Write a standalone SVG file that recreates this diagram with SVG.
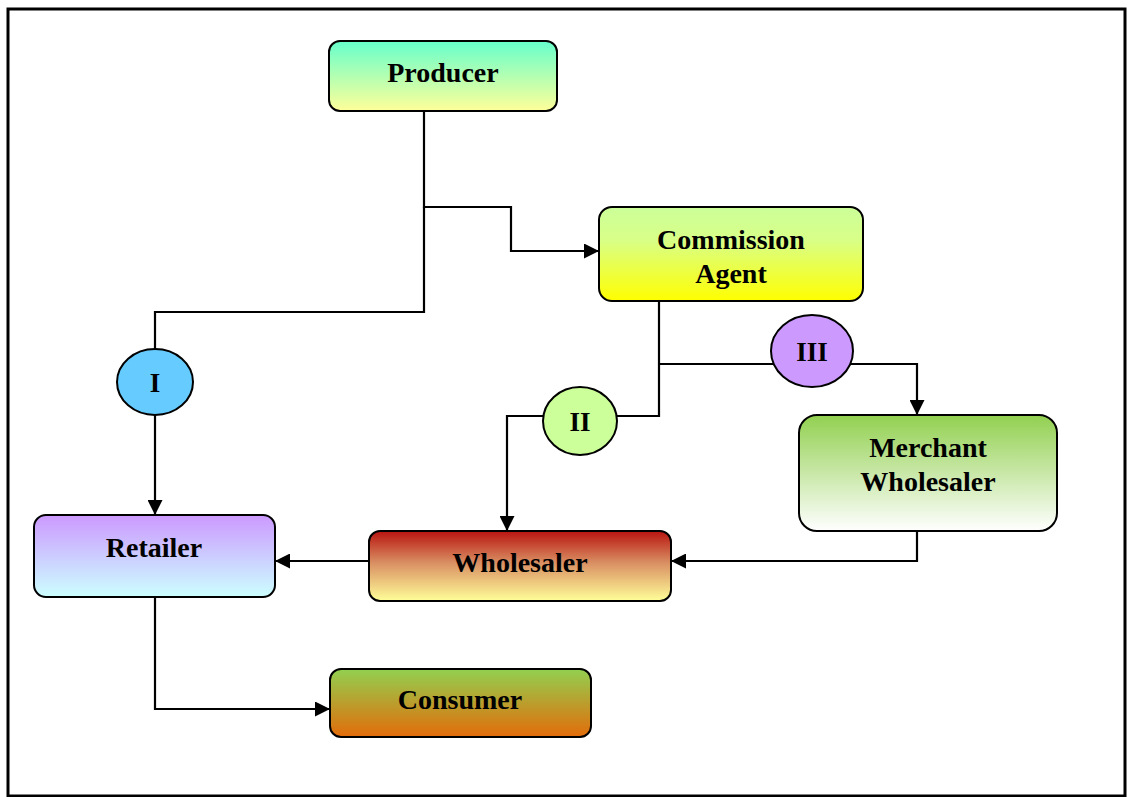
<svg xmlns="http://www.w3.org/2000/svg" width="1129" height="797" viewBox="0 0 1129 797">
<style>
.box{stroke:#000;stroke-width:2}
.lbl{font-family:"Liberation Serif","Times New Roman",serif;font-weight:bold;font-size:28px;fill:#000;text-anchor:middle}
.num{font-family:"Liberation Serif","Times New Roman",serif;font-weight:bold;font-size:27px;fill:#000;text-anchor:middle}
.conn{fill:none;stroke:#000;stroke-width:2.2}
</style>
<defs>
<marker id="arr" viewBox="0 0 10 10" refX="10" refY="5" markerWidth="15" markerHeight="15" markerUnits="userSpaceOnUse" orient="auto">
<path d="M0,0 L10,5 L0,10 z" fill="#000"/>
</marker>
<linearGradient id="gProd" x1="0" y1="0" x2="0" y2="1"><stop offset="0" stop-color="#66FFCC"/><stop offset="1" stop-color="#FFFF99"/></linearGradient>
<linearGradient id="gComm" x1="0" y1="0" x2="0" y2="1"><stop offset="0" stop-color="#CCFF99"/><stop offset="0.35" stop-color="#D8FF88"/><stop offset="1" stop-color="#FFFF00"/></linearGradient>
<linearGradient id="gRet" x1="0" y1="0" x2="0" y2="1"><stop offset="0" stop-color="#CC99FF"/><stop offset="1" stop-color="#CCFFFF"/></linearGradient>
<linearGradient id="gWho" x1="0" y1="0" x2="0" y2="1"><stop offset="0" stop-color="#B81410"/><stop offset="0.45" stop-color="#D98E62"/><stop offset="1" stop-color="#FFFF99"/></linearGradient>
<linearGradient id="gMer" x1="0" y1="0" x2="0" y2="1"><stop offset="0" stop-color="#92D050"/><stop offset="1" stop-color="#FFFFFF"/></linearGradient>
<linearGradient id="gCon" x1="0" y1="0" x2="0" y2="1"><stop offset="0" stop-color="#92D050"/><stop offset="1" stop-color="#E36C0A"/></linearGradient>
</defs>
<rect x="0" y="0" width="1129" height="797" fill="#fff"/>
<rect x="8" y="9" width="1117" height="787" fill="none" stroke="#000" stroke-width="3"/>
<g id="connectors">
<path class="conn" d="M424,111 V207 H511 V251 H599" marker-end="url(#arr)"/>
<path class="conn" d="M424,207 V312 H155 V515" marker-end="url(#arr)"/>
<path class="conn" d="M659,301 V416 H507 V531" marker-end="url(#arr)"/>
<path class="conn" d="M659,364 H917 V415" marker-end="url(#arr)"/>
<path class="conn" d="M917,531 V561 H671" marker-end="url(#arr)"/>
<path class="conn" d="M369,561 H275" marker-end="url(#arr)"/>
<path class="conn" d="M155,597 V709 H330" marker-end="url(#arr)"/>
</g>
<g id="producer">
<rect class="box" x="329" y="41" width="228" height="70" rx="11" fill="url(#gProd)"/>
<text class="lbl" x="443" y="82">Producer</text>
</g>
<g id="commission-agent">
<rect class="box" x="599" y="207" width="264" height="94" rx="13" fill="url(#gComm)"/>
<text class="lbl" x="731" y="249">Commission</text>
<text class="lbl" x="731" y="283">Agent</text>
</g>
<g id="merchant-wholesaler">
<rect class="box" x="799" y="415" width="258" height="116" rx="18" fill="url(#gMer)"/>
<text class="lbl" x="928" y="457">Merchant</text>
<text class="lbl" x="928" y="491">Wholesaler</text>
</g>
<g id="retailer">
<rect class="box" x="34" y="515" width="241" height="82" rx="12" fill="url(#gRet)"/>
<text class="lbl" x="154" y="557">Retailer</text>
</g>
<g id="wholesaler">
<rect class="box" x="369" y="531" width="302" height="70" rx="11" fill="url(#gWho)"/>
<text class="lbl" x="520" y="572">Wholesaler</text>
</g>
<g id="consumer">
<rect class="box" x="330" y="669" width="261" height="68" rx="11" fill="url(#gCon)"/>
<text class="lbl" x="460" y="709">Consumer</text>
</g>
<g id="channel-I">
<ellipse class="box" cx="155" cy="382" rx="38" ry="33" fill="#66CCFF"/>
<text class="num" x="155" y="392">I</text>
</g>
<g id="channel-II">
<ellipse class="box" cx="580" cy="421" rx="37" ry="34" fill="#CCFF99"/>
<text class="num" x="580" y="431">II</text>
</g>
<g id="channel-III">
<ellipse class="box" cx="812" cy="351" rx="41" ry="36" fill="#CC99FF"/>
<text class="num" x="812" y="361">III</text>
</g>
</svg>
